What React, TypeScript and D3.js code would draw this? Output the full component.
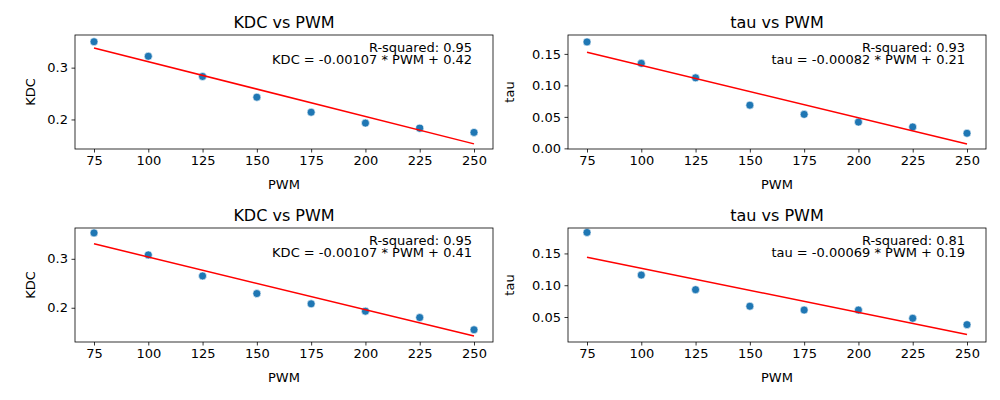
import { useEffect, useRef } from 'react'
import * as d3 from 'd3'

const pwm = [75, 100, 125, 150, 175, 200, 225, 250]
const kdcA = [0.350, 0.322, 0.283, 0.243, 0.214, 0.193, 0.183, 0.175]
const tauA = [0.169, 0.135, 0.112, 0.0686, 0.054, 0.0417, 0.034, 0.024]
const kdcB = [0.353, 0.308, 0.265, 0.229, 0.208, 0.193, 0.180, 0.155]
const tauB = [0.183, 0.116, 0.093, 0.067, 0.061, 0.061, 0.048, 0.038]

const kdcTicks = [0.2, 0.3]
const tauTicksA = [0, 0.05, 0.1, 0.15]
const tauTicksB = [0.05, 0.1, 0.15]
const xTicks = [75, 100, 125, 150, 175, 200, 225, 250]

interface Panel {
  name: string
  values: number[]
  domain: [number, number]
  ticks: number[]
  fmt: string
  r2: string
  eq: string
  left: number
  top: number
}

const panels: Panel[] = [
  { name: 'KDC', values: kdcA, domain: [0.143, 0.363], ticks: kdcTicks, fmt: '.1f', r2: 'R-squared: 0.95', eq: 'KDC = -0.00107 * PWM + 0.42', left: 75, top: 35 },
  { name: 'tau', values: tauA, domain: [-0.001, 0.180], ticks: tauTicksA, fmt: '.2f', r2: 'R-squared: 0.93', eq: 'tau = -0.00082 * PWM + 0.21', left: 568, top: 35 },
  { name: 'KDC', values: kdcB, domain: [0.130, 0.363], ticks: kdcTicks, fmt: '.1f', r2: 'R-squared: 0.95', eq: 'KDC = -0.00107 * PWM + 0.41', left: 75, top: 228 },
  { name: 'tau', values: tauB, domain: [0.0107, 0.190], ticks: tauTicksB, fmt: '.2f', r2: 'R-squared: 0.81', eq: 'tau = -0.00069 * PWM + 0.19', left: 568, top: 228 },
]

const W = 418
const H = 114

export default function App() {
  const svgRef = useRef<SVGSVGElement>(null)

  useEffect(() => {
    const svg = d3.select(svgRef.current)
    svg.selectAll('*').remove()
    svg.attr('font-family', 'DejaVu Sans').attr('fill', '#000')

    panels.forEach(p => {
      const g = svg.append('g').attr('transform', `translate(${p.left},${p.top})`)
      const x = d3.scaleLinear().domain([66.25, 258.75]).range([0, W])
      const y = d3.scaleLinear().domain(p.domain).range([H, 0])

      // least squares fit
      const mx = d3.mean(pwm)!
      const my = d3.mean(p.values)!
      const slope = d3.sum(pwm, (v, i) => (v - mx) * (p.values[i] - my)) / d3.sum(pwm, v => (v - mx) ** 2)
      const icpt = my - slope * mx

      g.selectAll('circle')
        .data(pwm)
        .enter()
        .append('circle')
        .attr('cx', d => x(d))
        .attr('cy', (d, i) => y(p.values[i]))
        .attr('r', 4)
        .attr('fill', '#1f77b4')
        .attr('stroke', '#fff')
        .attr('stroke-width', 0.6)

      const line = d3.line<number>().x(d => x(d)).y(d => y(slope * d + icpt))
      g.append('path')
        .attr('d', line([75, 250]))
        .attr('stroke', 'red')
        .attr('stroke-width', 1.5)
        .attr('fill', 'none')

      const xa = g.append('g').attr('transform', `translate(0,${H})`)
        .call(d3.axisBottom(x).tickValues(xTicks).tickSize(3.5).tickPadding(3.5))
      const ya = g.append('g')
        .call(d3.axisLeft(y).tickValues(p.ticks).tickFormat(d3.format(p.fmt)).tickSize(3.5).tickPadding(3.5))
      ;[xa, ya].forEach(a => {
        a.select('.domain').remove()
        a.selectAll('text').attr('font-size', '13px').attr('font-family', 'DejaVu Sans')
        a.selectAll('line').attr('stroke', '#000').attr('stroke-width', 0.8)
      })

      g.append('rect').attr('width', W).attr('height', H)
        .attr('fill', 'none').attr('stroke', '#000').attr('stroke-width', 0.8)

      g.append('text').attr('x', W / 2).attr('y', -7).attr('text-anchor', 'middle')
        .attr('font-size', '16px').text(`${p.name} vs PWM`)
      g.append('text').attr('x', W / 2).attr('y', H + 40).attr('text-anchor', 'middle')
        .attr('font-size', '13px').text('PWM')
      g.append('text')
        .attr('transform', `translate(${p.name === 'KDC' ? -40 : -54},${H / 2}) rotate(-90)`)
        .attr('text-anchor', 'middle').attr('font-size', '13px').text(p.name)

      g.append('text').attr('x', 0.95 * W).attr('y', 16.5).attr('text-anchor', 'end')
        .attr('font-size', '13px').text(p.r2)
      g.append('text').attr('x', 0.95 * W).attr('y', 28.5).attr('text-anchor', 'end')
        .attr('font-size', '13px').text(p.eq)
    })
  }, [])

  return <svg ref={svgRef} width={1000} height={400} style={{ display: 'block', margin: -8 }} />
}
